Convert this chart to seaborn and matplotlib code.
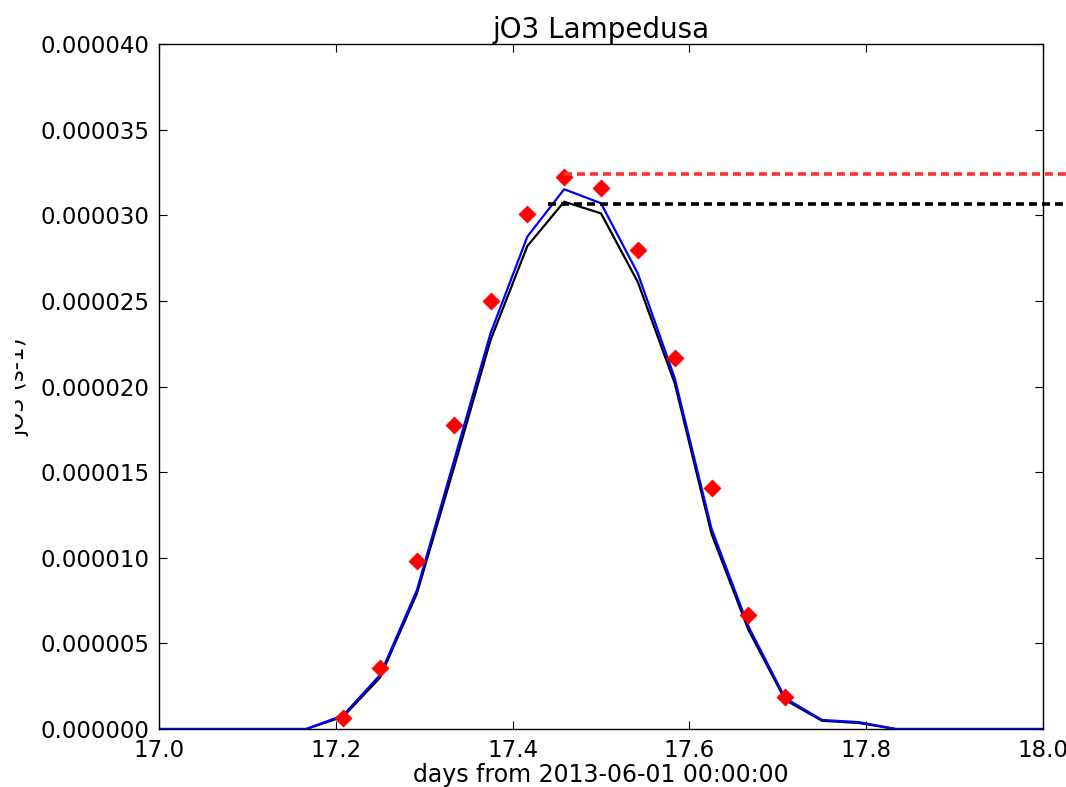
import numpy as np
import pandas as pd
import seaborn as sns
import matplotlib
matplotlib.use("Agg")
import matplotlib.pyplot as plt
from matplotlib.ticker import FormatStrFormatter, MultipleLocator
from matplotlib.patches import Rectangle

# ---- data ----
model_time = [17.0 + i / 24 for i in range(25)]
model_blue = [0, 0, 0, 0, 0, 0.80e-6, 3.15e-6, 8.1e-6, 15.6e-6, 23.1e-6,
              28.75e-6, 31.52e-6, 30.7e-6, 26.6e-6, 20.5e-6, 11.7e-6, 6.0e-6,
              1.8e-6, 0.53e-6, 0.40e-6, 0, 0, 0, 0, 0]
model_black = [0, 0, 0, 0, 0, 0.72e-6, 3.0e-6, 7.9e-6, 15.2e-6, 22.7e-6,
               28.2e-6, 30.79e-6, 30.11e-6, 26.1e-6, 20.2e-6, 11.4e-6, 5.8e-6,
               1.7e-6, 0.48e-6, 0.35e-6, 0, 0, 0, 0, 0]
obs_time = [17.2083, 17.25, 17.2917, 17.3333, 17.375, 17.4167, 17.4583,
            17.5, 17.5417, 17.5833, 17.625, 17.6667, 17.7083]
obs_val = [0.64e-6, 3.56e-6, 9.81e-6, 17.75e-6, 24.99e-6, 30.07e-6, 32.23e-6,
           31.59e-6, 27.97e-6, 21.66e-6, 14.07e-6, 6.66e-6, 1.87e-6]
obs_max_level = 32.4e-6
obs_max_start = 17.4583
model_max_level = 30.64e-6
model_max_start = 17.4404
dash_end = 18.04

title = "jO3 Lampedusa"
xlabel = "days from 2013-06-01 00:00:00"
ylabel = "jO3 (s-1)"

# ---- style ----
sns.set_style("ticks")
plt.rcParams["font.family"] = ["DejaVu Sans"]
plt.rcParams.update({
    "xtick.direction": "in", "ytick.direction": "in",
    "xtick.top": True, "ytick.right": True,
    "text.color": "black", "axes.labelcolor": "black",
    "xtick.color": "black", "ytick.color": "black",
    "xtick.labelcolor": "black", "ytick.labelcolor": "black",
})

fig = plt.figure(figsize=(10.66, 7.87), dpi=100)
ax = fig.add_axes([159 / 1066, 1 - 729 / 787, (1043 - 159) / 1066, (729 - 44) / 787])

df_model = pd.DataFrame({"t": model_time, "blue": model_blue, "black": model_black})
df_obs = pd.DataFrame({"t": obs_time, "v": obs_val})

sns.lineplot(data=df_model, x="t", y="black", color="black", lw=1.6,
             estimator=None, ax=ax, zorder=3)
sns.lineplot(data=df_model, x="t", y="blue", color="blue", lw=1.6,
             estimator=None, ax=ax, zorder=4)
sns.scatterplot(data=df_obs, x="t", y="v", marker="D", color="red", s=75,
                edgecolor="red", linewidth=0.5, ax=ax, zorder=5)

ax.plot([obs_max_start, dash_end], [obs_max_level] * 2, color="#ff3030",
        lw=2.6, dashes=(2.2, 1.4), clip_on=False, zorder=6)
ax.plot([model_max_start, dash_end], [model_max_level] * 2, color="black",
        lw=2.6, dashes=(2.2, 1.4), clip_on=False, zorder=6)

ax.set_xlim(17.0, 18.0)
ax.set_ylim(0, 4e-5)
ax.xaxis.set_major_locator(MultipleLocator(0.2))
ax.yaxis.set_major_locator(MultipleLocator(5e-6))
ax.xaxis.set_major_formatter(FormatStrFormatter("%.1f"))
ax.yaxis.set_major_formatter(FormatStrFormatter("%.6f"))
ax.tick_params(axis="both", which="major", labelsize=16.5, length=5.5,
               width=0.8, color="black", labelcolor="black", pad=7)
for s in ax.spines.values():
    s.set_color("black")
    s.set_linewidth(1.0)

ax.set_title(title, fontsize=20, pad=3, color="black")
ax.set_xlabel(xlabel, fontsize=17, labelpad=1, color="black")
ax.set_ylabel("")

fig.text(29 / 1066, 1 - 386.5 / 787, ylabel, rotation=90,
         ha="right", va="center", fontsize=16.5, zorder=3, color="black")
fig.patches.append(Rectangle((0, 0), 15 / 1066, 1, transform=fig.transFigure,
                             facecolor="white", edgecolor="none", zorder=10))

fig.savefig("out.png", dpi=100)
